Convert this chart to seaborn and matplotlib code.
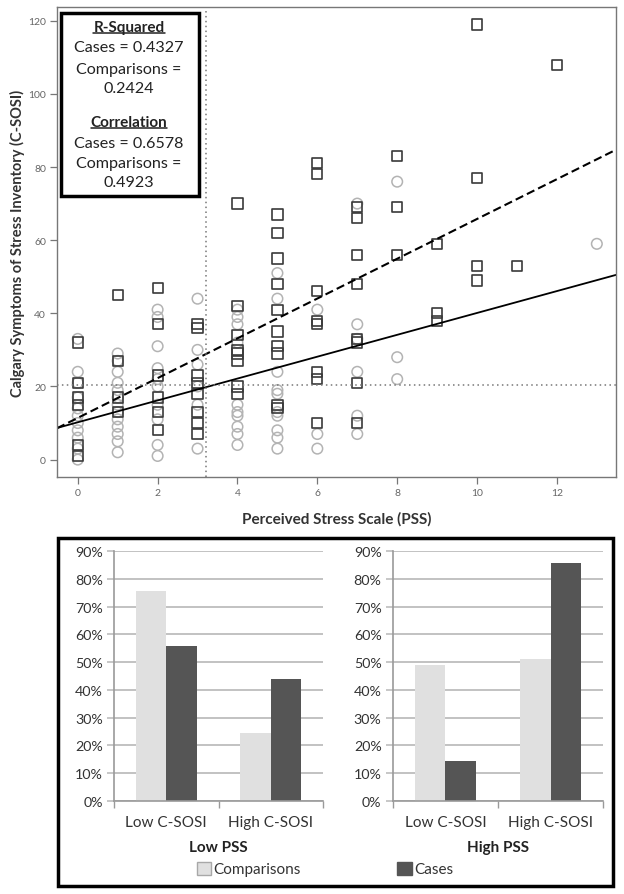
import numpy as np
import pandas as pd
import seaborn as sns
import matplotlib.pyplot as plt
from matplotlib.patches import Rectangle, Patch
from matplotlib.lines import Line2D

# ---------------- data ----------------
case_pss = [0, 0, 0, 0, 0, 0,
            1, 1, 1, 1,
            2, 2, 2, 2, 2, 2,
            3, 3, 3, 3, 3, 3, 3, 3,
            4, 4, 4, 4, 4, 4, 4, 4,
            5, 5, 5, 5, 5, 5, 5, 5, 5, 5,
            6, 6, 6, 6, 6, 6, 6, 6,
            7, 7, 7, 7, 7, 7, 7, 7,
            8, 8, 8,
            9, 9, 9,
            10, 10, 10, 10,
            11,
            12]
case_sosi = [32, 21, 17, 15, 4, 1,
             45, 27, 17, 13,
             47, 37, 23, 17, 13, 8,
             37, 36, 23, 21, 18, 13, 10, 7,
             70, 42, 34, 30, 29, 27, 20, 18,
             67, 62, 55, 48, 41, 35, 31, 29, 15, 14,
             81, 78, 46, 38, 37, 24, 22, 10,
             69, 66, 56, 48, 33, 32, 21, 10,
             83, 69, 56,
             59, 40, 38,
             119, 77, 53, 49,
             53,
             108]
comp_pss = [0, 0, 0, 0, 0, 0, 0, 0, 0, 0, 0,
            1, 1, 1, 1, 1, 1, 1, 1, 1, 1, 1, 1, 1,
            2, 2, 2, 2, 2, 2, 2, 2, 2, 2,
            3, 3, 3, 3, 3, 3,
            4, 4, 4, 4, 4, 4, 4, 4, 4, 4,
            5, 5, 5, 5, 5, 5, 5, 5, 5, 5,
            6, 6, 6,
            7, 7, 7, 7, 7, 7,
            8, 8, 8,
            13]
comp_sosi = [33, 24, 21, 17, 14, 12, 10, 8, 6, 3, 0,
             29, 27, 24, 21, 19, 17, 15, 13, 11, 9, 7, 5, 2,
             41, 39, 31, 25, 22, 20, 15, 11, 4, 1,
             44, 30, 26, 20, 15, 3,
             41, 39, 37, 32, 15, 13, 12, 9, 7, 4,
             51, 44, 24, 19, 18, 13, 12, 8, 6, 3,
             41, 7, 3,
             70, 37, 33, 24, 12, 7,
             76, 28, 22,
             59]

# fitted regression lines (intercept, slope)
case_fit = (11.4, 5.44)
comp_fit = (10.2, 2.99)
pss_cut = 3.2
sosi_cut = 20.5

stats_lines = ["R-Squared", "Cases = 0.4327", "Comparisons =", "0.2424",
               "Correlation", "Cases = 0.6578", "Comparisons =", "0.4923"]

bar_groups = ["Low PSS", "High PSS"]
bar_levels = ["Low C-SOSI", "High C-SOSI"]
comparisons_pct = {"Low PSS": [75.6, 24.4], "High PSS": [48.8, 51.2]}
cases_pct = {"Low PSS": [56.0, 44.0], "High PSS": [14.3, 85.7]}

# ---------------- style ----------------
sns.set_theme(style="white")
plt.rcParams['font.family'] = ['Lato', 'DejaVu Sans']

W, H = 624, 895
fig = plt.figure(figsize=(W / 100, H / 100), dpi=100)

def fx(px):
    return px / W

def fy(py):
    return 1 - py / H

# ---------------- scatter ----------------
ax = fig.add_axes([fx(57), fy(478), fx(616 - 57), (478 - 8) / H])
comp_df = pd.DataFrame({"pss": comp_pss, "sosi": comp_sosi})
case_df = pd.DataFrame({"pss": case_pss, "sosi": case_sosi})

sns.scatterplot(data=comp_df, x="pss", y="sosi", marker="o", s=58,
                facecolors="none", edgecolors="#b3b3b3", linewidth=1.1, ax=ax)
sns.scatterplot(data=case_df, x="pss", y="sosi", marker="s", s=54,
                facecolors="none", edgecolors="#3a3a3a", linewidth=1.2, ax=ax)

ax.axline((0, case_fit[0]), slope=case_fit[1], color="black", lw=1.5,
          linestyle=(0, (4, 2)))
ax.axline((0, comp_fit[0]), slope=comp_fit[1], color="black", lw=1.3)
ax.axhline(sosi_cut, color="#777777", lw=1.1, linestyle=(0, (1, 2.2)))
ax.axvline(pss_cut, color="#777777", lw=1.1, linestyle=(0, (1, 2.2)))

ax.set_xlim(-0.52, 13.48)
ax.set_ylim(-4.76, 123.76)
ax.set_xticks(range(0, 13, 2))
ax.set_yticks(range(0, 121, 20))
ax.tick_params(axis="both", direction="out", length=5, width=0.9,
               color="#777777", labelcolor="#666666", labelsize=7.5,
               bottom=True, left=True, pad=3)
for s in ax.spines.values():
    s.set_color("#777777")
    s.set_linewidth(1.0)
ax.set_xlabel("Perceived Stress Scale (PSS)", fontsize=11, fontweight="bold",
              color="#333333", labelpad=10)
ax.set_ylabel("Calgary Symptoms of Stress Inventory (C-SOSI)", fontsize=10.5,
              fontweight="bold", color="#333333", labelpad=2)

# stats box
fig.add_artist(Rectangle((fx(61), fy(197)), fx(199 - 61), (197 - 14) / H,
                         transform=fig.transFigure, facecolor="white",
                         edgecolor="black", lw=2.5, zorder=5))
line_y = [28.3, 48.3, 70, 89.3, 123.3, 144, 164, 183.3]
texts = []
for i, (t, yy) in enumerate(zip(stats_lines, line_y)):
    bold = i in (0, 4)
    txt = fig.text(fx(129), fy(yy), t, ha="center", va="center",
                   fontsize=11 if bold else 11.6,
                   fontweight="bold" if bold else "normal",
                   color="#222222", zorder=6)
    if bold:
        texts.append(txt)
fig.canvas.draw()
inv = fig.transFigure.inverted()
for txt in texts:
    bb = txt.get_window_extent().transformed(inv)
    fig.add_artist(Line2D([bb.x0, bb.x1], [bb.y0 + 0.001, bb.y0 + 0.001],
                          transform=fig.transFigure, color="#222222", lw=1.1,
                          zorder=6))

# ---------------- bar charts ----------------
fig.add_artist(Rectangle((fx(58), fy(886.5)), fx(613 - 58), (886.5 - 539) / H,
                         transform=fig.transFigure, facecolor="none",
                         edgecolor="black", lw=2.5, zorder=5))

palette = {"Comparisons": "#e0e0e0", "Cases": "#555555"}
bar_axes = [
    fig.add_axes([fx(114), fy(801.7), fx(323 - 114), (801.7 - 552.3) / H]),
    fig.add_axes([fx(392.7), fy(801.7), fx(603.3 - 392.7), (801.7 - 552.3) / H]),
]
for bx, grp in zip(bar_axes, bar_groups):
    df = pd.DataFrame({
        "level": bar_levels * 2,
        "sample": ["Comparisons"] * 2 + ["Cases"] * 2,
        "pct": comparisons_pct[grp] + cases_pct[grp],
    })
    sns.barplot(data=df, x="level", y="pct", hue="sample",
                hue_order=["Comparisons", "Cases"], order=bar_levels,
                palette=palette, width=0.58, saturation=1, legend=False,
                ax=bx, linewidth=0)
    bx.set_ylim(0, 90)
    bx.set_xlim(-0.5, 1.5)
    bx.set_yticks(range(0, 91, 10))
    bx.set_yticklabels([f"{v}%" for v in range(0, 91, 10)])
    bx.set_axisbelow(True)
    bx.yaxis.grid(True, color="#bdbdbd", lw=1.3)
    bx.xaxis.grid(False)
    for side in ("top", "right"):
        bx.spines[side].set_visible(False)
    for side in ("left", "bottom"):
        bx.spines[side].set_color("#9a9a9a")
        bx.spines[side].set_linewidth(1.2)
    bx.set_xticks([-0.5, 0.5, 1.5], minor=True)
    bx.tick_params(axis="x", which="minor", length=5, width=1.0,
                   color="#9a9a9a", direction="out", bottom=True)
    bx.tick_params(axis="x", which="major", length=0, pad=10,
                   labelsize=11, labelcolor="#333333")
    bx.tick_params(axis="y", length=5, width=1.2, color="#bdbdbd",
                   direction="out", left=True, labelsize=10.3,
                   labelcolor="#333333", pad=3)
    bx.set_ylabel("")
    bx.set_xlabel(grp, fontsize=11, fontweight="bold", color="#222222",
                  labelpad=8)

handles = [Patch(facecolor="#e0e0e0", edgecolor="#a8a8a8", lw=1.0),
           Patch(facecolor="#555555", edgecolor="#555555", lw=1.0)]
fig.legend(handles, ["Comparisons", "Cases"], ncol=2, loc="center",
           bbox_to_anchor=(fx(325), fy(870)), frameon=False, fontsize=11,
           handlelength=0.95, handleheight=0.95, handletextpad=0.15,
           columnspacing=6.3, labelcolor="#333333")

fig.savefig("out.png", dpi=100)
